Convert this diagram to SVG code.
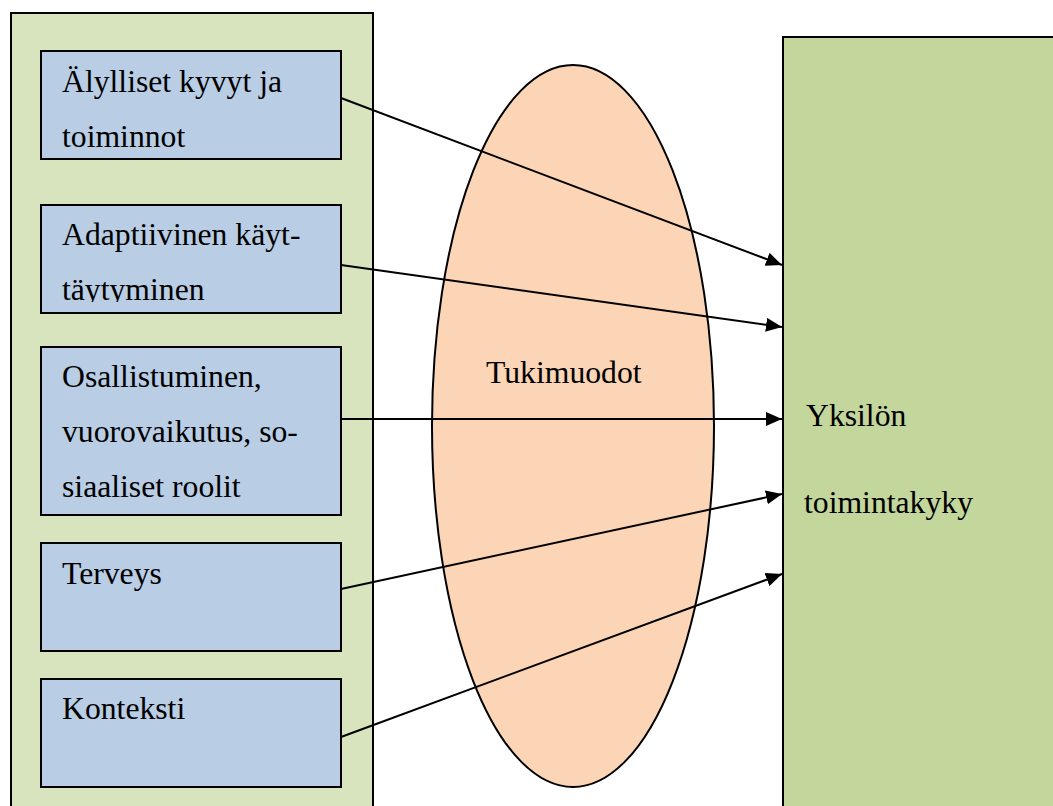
<svg xmlns="http://www.w3.org/2000/svg" width="1053" height="806" viewBox="0 0 1053 806">
<style>
text{font-family:"Liberation Serif","Times New Roman",serif;font-size:31.7px;fill:#000}
.inner{fill:#b9cde5;stroke:#000;stroke-width:2}
.conn{stroke:#000;stroke-width:2;fill:none;marker-end:url(#ah)}
</style>
<defs>
<marker id="ah" markerUnits="userSpaceOnUse" markerWidth="18" markerHeight="14" refX="16" refY="7" orient="auto">
<path d="M0,0 L16,7 L0,14 z" fill="#000"/>
</marker>
<clipPath id="c2"><rect x="41" y="205" width="300" height="97"/></clipPath>
</defs>
<rect width="1053" height="806" fill="#fff"/>
<g id="left-panel">
<rect x="11" y="13" width="362" height="800" fill="#d7e4bd" stroke="#000" stroke-width="2"/>
</g>
<g id="node-alylliset">
<rect class="inner" x="41" y="51" width="300" height="108"/>
<text x="62" y="92">Älylliset kyvyt ja</text>
<text x="62" y="147">toiminnot</text>
</g>
<g id="node-adaptiivinen">
<rect class="inner" x="41" y="205" width="300" height="108"/>
<g clip-path="url(#c2)">
<text x="62" y="245">Adaptiivinen käyt-</text>
<text x="62" y="300">täytyminen</text>
</g>
</g>
<g id="node-osallistuminen">
<rect class="inner" x="41" y="347" width="300" height="168"/>
<text x="62" y="387">Osallistuminen,</text>
<text x="62" y="442">vuorovaikutus, so-</text>
<text x="62" y="497">siaaliset roolit</text>
</g>
<g id="node-terveys">
<rect class="inner" x="41" y="543" width="300" height="108"/>
<text x="62" y="584">Terveys</text>
</g>
<g id="node-konteksti">
<rect class="inner" x="41" y="679" width="300" height="108"/>
<text x="62" y="719">Konteksti</text>
</g>
<g id="node-tukimuodot">
<ellipse cx="573" cy="426" rx="141" ry="361" fill="#fbd5b5" stroke="#000" stroke-width="2"/>
<text x="486" y="383">Tukimuodot</text>
</g>
<g id="node-yksilon">
<rect x="783" y="37" width="290" height="800" fill="#c3d69b" stroke="#000" stroke-width="2"/>
<text x="806" y="426">Yksilön</text>
<text x="804" y="513">toimintakyky</text>
</g>
<g id="connectors">
<line class="conn" x1="341" y1="98" x2="782" y2="265"/>
<line class="conn" x1="341" y1="265" x2="782" y2="327"/>
<line class="conn" x1="341" y1="419" x2="782" y2="419"/>
<line class="conn" x1="341" y1="589" x2="782" y2="494"/>
<line class="conn" x1="341" y1="737" x2="782" y2="574"/>
</g>
</svg>
